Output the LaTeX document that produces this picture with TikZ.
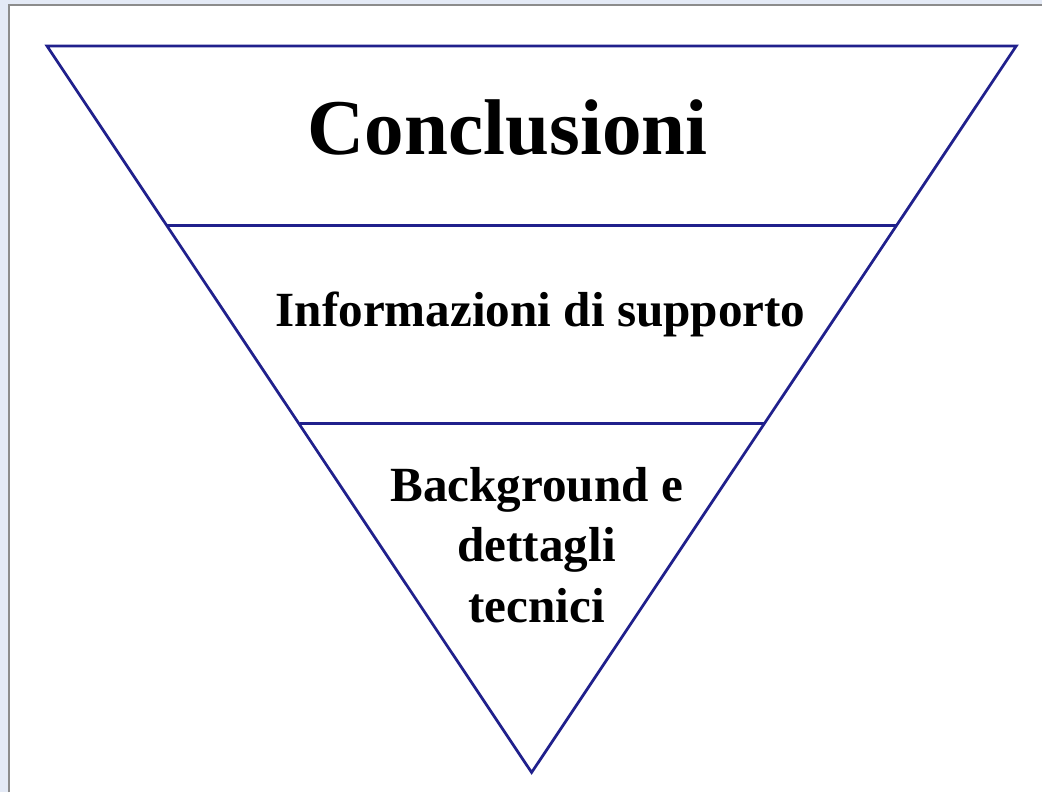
\documentclass[tikz,border=0pt]{standalone}
\usepackage{fontspec}
\setmainfont{Liberation Serif}
\definecolor{edgeblue}{HTML}{20208C}
\definecolor{panelbg}{HTML}{E4EAF6}
\definecolor{panelrule}{HTML}{8C8C8C}

\begin{document}
\begin{tikzpicture}[x=0.02cm,y=-0.02cm]
    \tikzset{
        level/.style={draw=edgeblue, line width=0.055cm, line join=miter},
        tier/.style={font=\bfseries, inner sep=0pt, anchor=base, align=center}
    }
    % panel
    \fill[panelbg] (0,0) rectangle (1043,793);
    \fill[white] (9,5) rectangle (1043,793);
    \draw[panelrule, line width=0.03cm] (9,793) -- (9,5) -- (1043,5);

    % funnel corners
    \coordinate (TL) at (47,46);
    \coordinate (TR) at (1017,46);
    \coordinate (B) at (532,773);
    \coordinate (L1) at (167,226);
    \coordinate (R1) at (897,226);
    \coordinate (L2) at (300,424);
    \coordinate (R2) at (765,424);

    \draw[level] (TL) -- (TR) -- (B) -- cycle;
    \draw[level] (L1) -- (R1);
    \draw[level] (L2) -- (R2);

    % labels (base of a multi-line node is its last line)
    \node[tier, font=\bfseries\fontsize{45}{50}\selectfont] (concl) at (508,155) {Conclusioni};
    \node[tier, font=\bfseries\fontsize{28}{35}\selectfont] (supp) at (541,327) {Informazioni di supporto};
    \node[tier, font=\bfseries\fontsize{28}{34.5}\selectfont] (backg) at (537,623) {Background e\\dettagli\\tecnici};
\end{tikzpicture}
\end{document}
